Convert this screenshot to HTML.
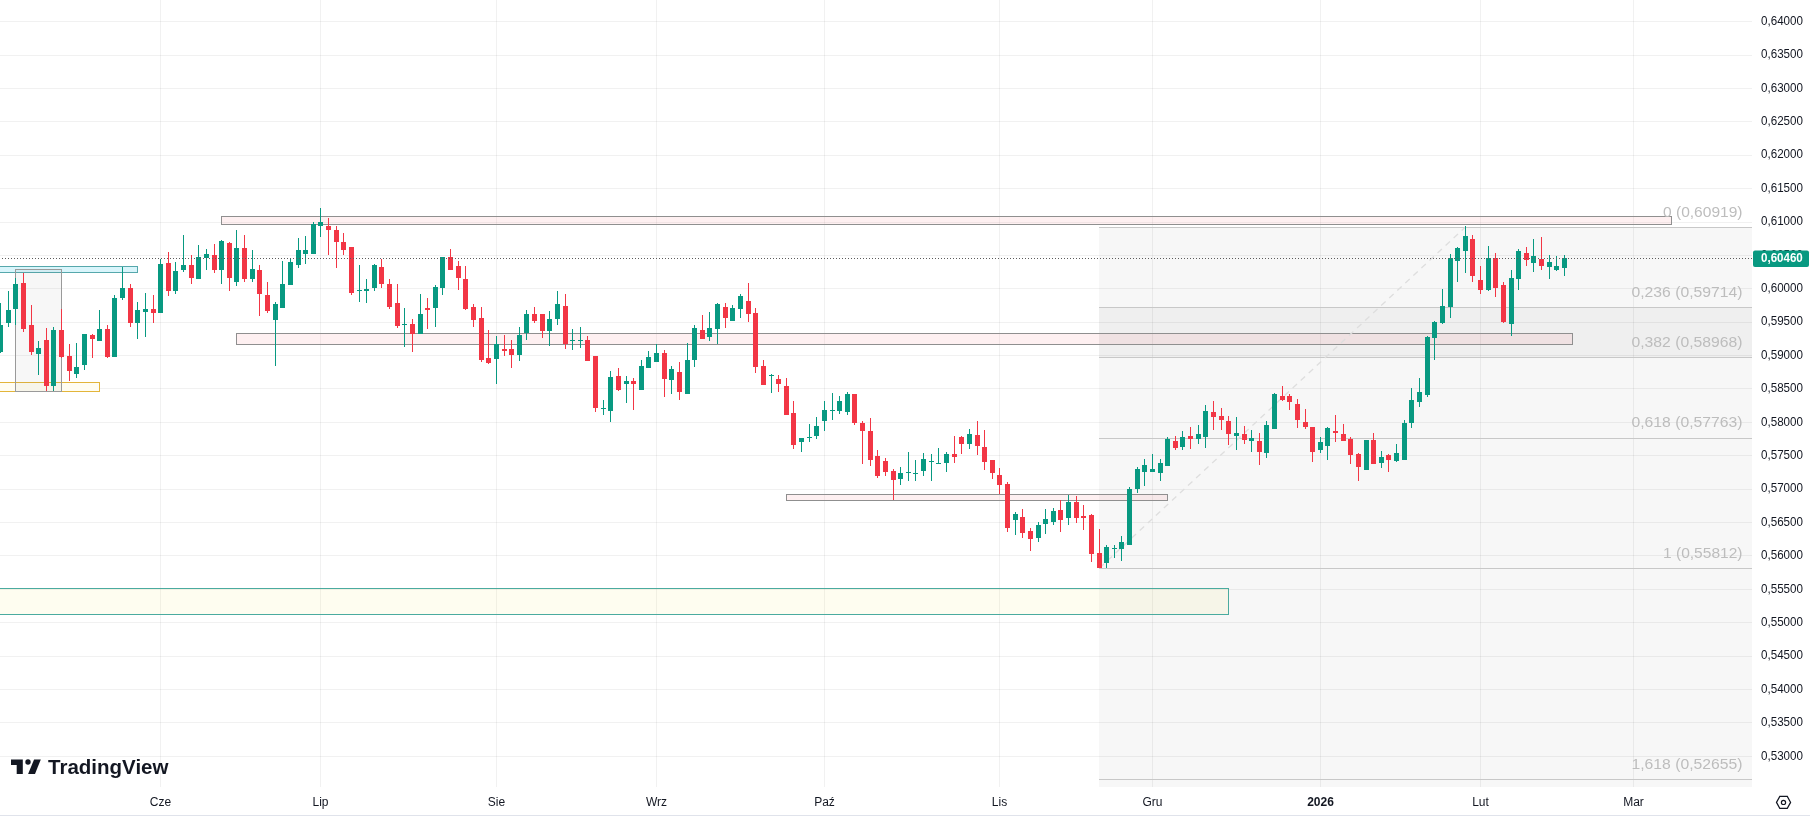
<!DOCTYPE html><html><head><meta charset="utf-8"><style>
html,body{margin:0;padding:0;background:#fff;width:1810px;height:817px;overflow:hidden}
svg{display:block;will-change:transform}
text{font-family:"Liberation Sans",sans-serif}
</style></head><body>
<svg width="1810" height="817" viewBox="0 0 1810 817" shape-rendering="crispEdges">

<rect x="1099" y="227.4" width="653" height="559.6" fill="#f7f7f7"/>
<rect x="1099" y="307.9" width="653" height="49.8" fill="#efefef"/>
<line x1="0" y1="756.5" x2="1752" y2="756.5" stroke="rgba(0,0,0,0.055)" stroke-width="1"/>
<line x1="0" y1="722.5" x2="1752" y2="722.5" stroke="rgba(0,0,0,0.055)" stroke-width="1"/>
<line x1="0" y1="689.5" x2="1752" y2="689.5" stroke="rgba(0,0,0,0.055)" stroke-width="1"/>
<line x1="0" y1="656.5" x2="1752" y2="656.5" stroke="rgba(0,0,0,0.055)" stroke-width="1"/>
<line x1="0" y1="622.5" x2="1752" y2="622.5" stroke="rgba(0,0,0,0.055)" stroke-width="1"/>
<line x1="0" y1="589.5" x2="1752" y2="589.5" stroke="rgba(0,0,0,0.055)" stroke-width="1"/>
<line x1="0" y1="555.5" x2="1752" y2="555.5" stroke="rgba(0,0,0,0.055)" stroke-width="1"/>
<line x1="0" y1="522.5" x2="1752" y2="522.5" stroke="rgba(0,0,0,0.055)" stroke-width="1"/>
<line x1="0" y1="489.5" x2="1752" y2="489.5" stroke="rgba(0,0,0,0.055)" stroke-width="1"/>
<line x1="0" y1="455.5" x2="1752" y2="455.5" stroke="rgba(0,0,0,0.055)" stroke-width="1"/>
<line x1="0" y1="422.5" x2="1752" y2="422.5" stroke="rgba(0,0,0,0.055)" stroke-width="1"/>
<line x1="0" y1="388.5" x2="1752" y2="388.5" stroke="rgba(0,0,0,0.055)" stroke-width="1"/>
<line x1="0" y1="355.5" x2="1752" y2="355.5" stroke="rgba(0,0,0,0.055)" stroke-width="1"/>
<line x1="0" y1="322.5" x2="1752" y2="322.5" stroke="rgba(0,0,0,0.055)" stroke-width="1"/>
<line x1="0" y1="288.5" x2="1752" y2="288.5" stroke="rgba(0,0,0,0.055)" stroke-width="1"/>
<line x1="0" y1="255.5" x2="1752" y2="255.5" stroke="rgba(0,0,0,0.055)" stroke-width="1"/>
<line x1="0" y1="222.5" x2="1752" y2="222.5" stroke="rgba(0,0,0,0.055)" stroke-width="1"/>
<line x1="0" y1="188.5" x2="1752" y2="188.5" stroke="rgba(0,0,0,0.055)" stroke-width="1"/>
<line x1="0" y1="155.5" x2="1752" y2="155.5" stroke="rgba(0,0,0,0.055)" stroke-width="1"/>
<line x1="0" y1="121.5" x2="1752" y2="121.5" stroke="rgba(0,0,0,0.055)" stroke-width="1"/>
<line x1="0" y1="88.5" x2="1752" y2="88.5" stroke="rgba(0,0,0,0.055)" stroke-width="1"/>
<line x1="0" y1="55.5" x2="1752" y2="55.5" stroke="rgba(0,0,0,0.055)" stroke-width="1"/>
<line x1="0" y1="21.5" x2="1752" y2="21.5" stroke="rgba(0,0,0,0.055)" stroke-width="1"/>
<line x1="160.5" y1="0" x2="160.5" y2="787" stroke="rgba(0,0,0,0.055)" stroke-width="1"/>
<line x1="320.5" y1="0" x2="320.5" y2="787" stroke="rgba(0,0,0,0.055)" stroke-width="1"/>
<line x1="496.5" y1="0" x2="496.5" y2="787" stroke="rgba(0,0,0,0.055)" stroke-width="1"/>
<line x1="656.5" y1="0" x2="656.5" y2="787" stroke="rgba(0,0,0,0.055)" stroke-width="1"/>
<line x1="824.5" y1="0" x2="824.5" y2="787" stroke="rgba(0,0,0,0.055)" stroke-width="1"/>
<line x1="999.5" y1="0" x2="999.5" y2="787" stroke="rgba(0,0,0,0.055)" stroke-width="1"/>
<line x1="1152.5" y1="0" x2="1152.5" y2="787" stroke="rgba(0,0,0,0.055)" stroke-width="1"/>
<line x1="1320.5" y1="0" x2="1320.5" y2="787" stroke="rgba(0,0,0,0.055)" stroke-width="1"/>
<line x1="1480.5" y1="0" x2="1480.5" y2="787" stroke="rgba(0,0,0,0.055)" stroke-width="1"/>
<line x1="1633.5" y1="0" x2="1633.5" y2="787" stroke="rgba(0,0,0,0.055)" stroke-width="1"/>
<rect x="-2" y="588.5" width="1230.5" height="26.0" fill="rgba(245,225,40,0.07)" stroke="#4aab9f" stroke-width="1.3"/>
<rect x="-2" y="266.5" width="139.5" height="6.0" fill="rgba(0,190,225,0.15)" stroke="#56a8ac" stroke-width="1.3"/>
<rect x="-2" y="382.5" width="101.5" height="9.0" fill="#fffdf2" stroke="#e3b53a" stroke-width="1.8"/>
<rect x="15.5" y="269.5" width="46.0" height="122.0" fill="rgba(100,100,100,0.05)" stroke="#9a9a9a" stroke-width="1"/>
<rect x="221.5" y="216.5" width="1450.0" height="8.0" fill="rgba(242,54,69,0.075)" stroke="#8f8f8f" stroke-width="1.2"/>
<rect x="236.5" y="333.5" width="1336.0" height="11.0" fill="rgba(242,54,69,0.075)" stroke="#8f8f8f" stroke-width="1.2"/>
<rect x="786.5" y="494.5" width="381.0" height="6.0" fill="rgba(242,54,69,0.075)" stroke="#8f8f8f" stroke-width="1.2"/>
<line x1="1099" y1="227.5" x2="1752" y2="227.5" stroke="#c8c8c8" stroke-width="1.4"/>
<line x1="1099" y1="307.5" x2="1752" y2="307.5" stroke="#c8c8c8" stroke-width="1.4"/>
<line x1="1099" y1="357.5" x2="1752" y2="357.5" stroke="#c8c8c8" stroke-width="1.4"/>
<line x1="1099" y1="438.5" x2="1752" y2="438.5" stroke="#c8c8c8" stroke-width="1.4"/>
<line x1="1099" y1="568.5" x2="1752" y2="568.5" stroke="#c8c8c8" stroke-width="1.4"/>
<line x1="1099" y1="779.5" x2="1752" y2="779.5" stroke="#c8c8c8" stroke-width="1.4"/>
<line x1="1099.5" y1="568" x2="1465.5" y2="227" stroke="#dedede" stroke-width="1.3" stroke-dasharray="6 5" shape-rendering="auto"/>
<text x="1742.5" y="216.6" text-anchor="end" font-size="14.8" textLength="79.5" lengthAdjust="spacingAndGlyphs" fill="#bdbdbd">0 (0,60919)</text>
<text x="1742.5" y="297.1" text-anchor="end" font-size="14.8" textLength="111.0" lengthAdjust="spacingAndGlyphs" fill="#bdbdbd">0,236 (0,59714)</text>
<text x="1742.5" y="346.9" text-anchor="end" font-size="14.8" textLength="111.0" lengthAdjust="spacingAndGlyphs" fill="#bdbdbd">0,382 (0,58968)</text>
<text x="1742.5" y="427.4" text-anchor="end" font-size="14.8" textLength="111.0" lengthAdjust="spacingAndGlyphs" fill="#bdbdbd">0,618 (0,57763)</text>
<text x="1742.5" y="557.8" text-anchor="end" font-size="14.8" textLength="79.5" lengthAdjust="spacingAndGlyphs" fill="#bdbdbd">1 (0,55812)</text>
<text x="1742.5" y="768.6" text-anchor="end" font-size="14.8" textLength="111.0" lengthAdjust="spacingAndGlyphs" fill="#bdbdbd">1,618 (0,52655)</text>
<rect x="0" y="303" width="1" height="50" fill="#089981"/>
<rect x="-2" y="325" width="5" height="27" fill="#089981"/>
<rect x="8" y="291" width="1" height="36" fill="#089981"/>
<rect x="6" y="310" width="5" height="13" fill="#089981"/>
<rect x="15" y="278" width="1" height="47" fill="#089981"/>
<rect x="13" y="284" width="5" height="25" fill="#089981"/>
<rect x="23" y="273" width="1" height="59" fill="#f23645"/>
<rect x="21" y="283" width="5" height="46" fill="#f23645"/>
<rect x="31" y="305" width="1" height="50" fill="#f23645"/>
<rect x="29" y="325" width="5" height="27" fill="#f23645"/>
<rect x="38" y="341" width="1" height="34" fill="#089981"/>
<rect x="36" y="348" width="5" height="6" fill="#089981"/>
<rect x="46" y="328" width="1" height="63" fill="#f23645"/>
<rect x="44" y="340" width="5" height="46" fill="#f23645"/>
<rect x="53" y="327" width="1" height="64" fill="#089981"/>
<rect x="51" y="330" width="5" height="56" fill="#089981"/>
<rect x="61" y="309" width="1" height="49" fill="#f23645"/>
<rect x="59" y="330" width="5" height="27" fill="#f23645"/>
<rect x="69" y="344" width="1" height="37" fill="#f23645"/>
<rect x="67" y="356" width="5" height="15" fill="#f23645"/>
<rect x="76" y="343" width="1" height="35" fill="#089981"/>
<rect x="74" y="367" width="5" height="7" fill="#089981"/>
<rect x="84" y="334" width="1" height="36" fill="#089981"/>
<rect x="82" y="334" width="5" height="31" fill="#089981"/>
<rect x="92" y="334" width="1" height="24" fill="#f23645"/>
<rect x="90" y="335" width="5" height="4" fill="#f23645"/>
<rect x="99" y="310" width="1" height="31" fill="#089981"/>
<rect x="97" y="329" width="5" height="12" fill="#089981"/>
<rect x="107" y="325" width="1" height="33" fill="#f23645"/>
<rect x="105" y="329" width="5" height="28" fill="#f23645"/>
<rect x="114" y="295" width="1" height="62" fill="#089981"/>
<rect x="112" y="298" width="5" height="59" fill="#089981"/>
<rect x="122" y="267" width="1" height="33" fill="#089981"/>
<rect x="120" y="288" width="5" height="10" fill="#089981"/>
<rect x="130" y="284" width="1" height="43" fill="#f23645"/>
<rect x="128" y="288" width="5" height="35" fill="#f23645"/>
<rect x="137" y="302" width="1" height="37" fill="#089981"/>
<rect x="135" y="310" width="5" height="13" fill="#089981"/>
<rect x="145" y="293" width="1" height="44" fill="#089981"/>
<rect x="143" y="309" width="5" height="3" fill="#089981"/>
<rect x="153" y="295" width="1" height="28" fill="#f23645"/>
<rect x="151" y="309" width="5" height="4" fill="#f23645"/>
<rect x="160" y="259" width="1" height="54" fill="#089981"/>
<rect x="158" y="264" width="5" height="49" fill="#089981"/>
<rect x="168" y="252" width="1" height="44" fill="#f23645"/>
<rect x="166" y="263" width="5" height="28" fill="#f23645"/>
<rect x="175" y="262" width="1" height="32" fill="#089981"/>
<rect x="173" y="271" width="5" height="20" fill="#089981"/>
<rect x="183" y="235" width="1" height="37" fill="#089981"/>
<rect x="181" y="265" width="5" height="5" fill="#089981"/>
<rect x="191" y="255" width="1" height="29" fill="#f23645"/>
<rect x="189" y="265" width="5" height="13" fill="#f23645"/>
<rect x="198" y="245" width="1" height="34" fill="#089981"/>
<rect x="196" y="257" width="5" height="22" fill="#089981"/>
<rect x="206" y="249" width="1" height="21" fill="#089981"/>
<rect x="204" y="254" width="5" height="4" fill="#089981"/>
<rect x="214" y="244" width="1" height="29" fill="#f23645"/>
<rect x="212" y="255" width="5" height="15" fill="#f23645"/>
<rect x="221" y="240" width="1" height="44" fill="#089981"/>
<rect x="219" y="241" width="5" height="29" fill="#089981"/>
<rect x="229" y="242" width="1" height="49" fill="#f23645"/>
<rect x="227" y="243" width="5" height="35" fill="#f23645"/>
<rect x="236" y="230" width="1" height="56" fill="#089981"/>
<rect x="234" y="248" width="5" height="34" fill="#089981"/>
<rect x="244" y="235" width="1" height="47" fill="#f23645"/>
<rect x="242" y="248" width="5" height="31" fill="#f23645"/>
<rect x="252" y="250" width="1" height="32" fill="#089981"/>
<rect x="250" y="269" width="5" height="10" fill="#089981"/>
<rect x="259" y="265" width="1" height="51" fill="#f23645"/>
<rect x="257" y="270" width="5" height="24" fill="#f23645"/>
<rect x="267" y="282" width="1" height="31" fill="#f23645"/>
<rect x="265" y="295" width="5" height="16" fill="#f23645"/>
<rect x="275" y="302" width="1" height="64" fill="#089981"/>
<rect x="273" y="304" width="5" height="16" fill="#089981"/>
<rect x="282" y="261" width="1" height="47" fill="#089981"/>
<rect x="280" y="284" width="5" height="24" fill="#089981"/>
<rect x="290" y="259" width="1" height="26" fill="#089981"/>
<rect x="288" y="262" width="5" height="23" fill="#089981"/>
<rect x="298" y="238" width="1" height="30" fill="#089981"/>
<rect x="296" y="250" width="5" height="15" fill="#089981"/>
<rect x="305" y="236" width="1" height="28" fill="#089981"/>
<rect x="303" y="250" width="5" height="4" fill="#089981"/>
<rect x="313" y="222" width="1" height="32" fill="#089981"/>
<rect x="311" y="224" width="5" height="30" fill="#089981"/>
<rect x="320" y="208" width="1" height="29" fill="#089981"/>
<rect x="318" y="222" width="5" height="4" fill="#089981"/>
<rect x="328" y="218" width="1" height="37" fill="#f23645"/>
<rect x="326" y="226" width="5" height="4" fill="#f23645"/>
<rect x="336" y="226" width="1" height="42" fill="#f23645"/>
<rect x="334" y="230" width="5" height="12" fill="#f23645"/>
<rect x="343" y="233" width="1" height="22" fill="#f23645"/>
<rect x="341" y="242" width="5" height="8" fill="#f23645"/>
<rect x="351" y="247" width="1" height="48" fill="#f23645"/>
<rect x="349" y="247" width="5" height="46" fill="#f23645"/>
<rect x="359" y="265" width="1" height="37" fill="#089981"/>
<rect x="357" y="290" width="5" height="1" fill="#089981"/>
<rect x="366" y="279" width="1" height="24" fill="#089981"/>
<rect x="364" y="289" width="5" height="2" fill="#089981"/>
<rect x="374" y="264" width="1" height="27" fill="#089981"/>
<rect x="372" y="265" width="5" height="23" fill="#089981"/>
<rect x="381" y="259" width="1" height="29" fill="#f23645"/>
<rect x="379" y="267" width="5" height="17" fill="#f23645"/>
<rect x="389" y="279" width="1" height="30" fill="#f23645"/>
<rect x="387" y="284" width="5" height="23" fill="#f23645"/>
<rect x="397" y="284" width="1" height="44" fill="#f23645"/>
<rect x="395" y="303" width="5" height="23" fill="#f23645"/>
<rect x="404" y="308" width="1" height="39" fill="#089981"/>
<rect x="402" y="324" width="5" height="1" fill="#089981"/>
<rect x="412" y="319" width="1" height="33" fill="#f23645"/>
<rect x="410" y="324" width="5" height="10" fill="#f23645"/>
<rect x="420" y="294" width="1" height="40" fill="#089981"/>
<rect x="418" y="314" width="5" height="20" fill="#089981"/>
<rect x="427" y="298" width="1" height="31" fill="#f23645"/>
<rect x="425" y="308" width="5" height="2" fill="#f23645"/>
<rect x="435" y="285" width="1" height="42" fill="#089981"/>
<rect x="433" y="287" width="5" height="21" fill="#089981"/>
<rect x="442" y="257" width="1" height="38" fill="#089981"/>
<rect x="440" y="257" width="5" height="31" fill="#089981"/>
<rect x="450" y="249" width="1" height="21" fill="#f23645"/>
<rect x="448" y="257" width="5" height="13" fill="#f23645"/>
<rect x="458" y="261" width="1" height="29" fill="#f23645"/>
<rect x="456" y="266" width="5" height="12" fill="#f23645"/>
<rect x="465" y="266" width="1" height="44" fill="#f23645"/>
<rect x="463" y="279" width="5" height="30" fill="#f23645"/>
<rect x="473" y="304" width="1" height="23" fill="#f23645"/>
<rect x="471" y="307" width="5" height="13" fill="#f23645"/>
<rect x="481" y="307" width="1" height="55" fill="#f23645"/>
<rect x="479" y="318" width="5" height="42" fill="#f23645"/>
<rect x="488" y="330" width="1" height="34" fill="#f23645"/>
<rect x="486" y="358" width="5" height="5" fill="#f23645"/>
<rect x="496" y="336" width="1" height="48" fill="#089981"/>
<rect x="494" y="344" width="5" height="15" fill="#089981"/>
<rect x="504" y="335" width="1" height="21" fill="#f23645"/>
<rect x="502" y="349" width="5" height="2" fill="#f23645"/>
<rect x="511" y="340" width="1" height="28" fill="#f23645"/>
<rect x="509" y="349" width="5" height="6" fill="#f23645"/>
<rect x="519" y="327" width="1" height="34" fill="#089981"/>
<rect x="517" y="335" width="5" height="20" fill="#089981"/>
<rect x="526" y="310" width="1" height="30" fill="#089981"/>
<rect x="524" y="314" width="5" height="19" fill="#089981"/>
<rect x="534" y="307" width="1" height="16" fill="#f23645"/>
<rect x="532" y="314" width="5" height="7" fill="#f23645"/>
<rect x="542" y="314" width="1" height="24" fill="#f23645"/>
<rect x="540" y="314" width="5" height="17" fill="#f23645"/>
<rect x="549" y="311" width="1" height="35" fill="#089981"/>
<rect x="547" y="319" width="5" height="12" fill="#089981"/>
<rect x="557" y="291" width="1" height="34" fill="#089981"/>
<rect x="555" y="304" width="5" height="15" fill="#089981"/>
<rect x="565" y="294" width="1" height="55" fill="#f23645"/>
<rect x="563" y="306" width="5" height="38" fill="#f23645"/>
<rect x="572" y="329" width="1" height="21" fill="#089981"/>
<rect x="570" y="340" width="5" height="1" fill="#089981"/>
<rect x="580" y="327" width="1" height="21" fill="#089981"/>
<rect x="578" y="340" width="5" height="1" fill="#089981"/>
<rect x="587" y="336" width="1" height="25" fill="#f23645"/>
<rect x="585" y="340" width="5" height="21" fill="#f23645"/>
<rect x="595" y="356" width="1" height="56" fill="#f23645"/>
<rect x="593" y="356" width="5" height="52" fill="#f23645"/>
<rect x="603" y="400" width="1" height="15" fill="#089981"/>
<rect x="601" y="408" width="5" height="1" fill="#089981"/>
<rect x="610" y="371" width="1" height="51" fill="#089981"/>
<rect x="608" y="377" width="5" height="34" fill="#089981"/>
<rect x="618" y="368" width="1" height="23" fill="#f23645"/>
<rect x="616" y="376" width="5" height="14" fill="#f23645"/>
<rect x="626" y="376" width="1" height="27" fill="#089981"/>
<rect x="624" y="381" width="5" height="3" fill="#089981"/>
<rect x="633" y="378" width="1" height="32" fill="#f23645"/>
<rect x="631" y="381" width="5" height="3" fill="#f23645"/>
<rect x="641" y="360" width="1" height="30" fill="#089981"/>
<rect x="639" y="366" width="5" height="24" fill="#089981"/>
<rect x="648" y="351" width="1" height="17" fill="#089981"/>
<rect x="646" y="357" width="5" height="11" fill="#089981"/>
<rect x="656" y="344" width="1" height="18" fill="#089981"/>
<rect x="654" y="353" width="5" height="9" fill="#089981"/>
<rect x="664" y="350" width="1" height="47" fill="#f23645"/>
<rect x="662" y="353" width="5" height="26" fill="#f23645"/>
<rect x="671" y="366" width="1" height="28" fill="#089981"/>
<rect x="669" y="369" width="5" height="11" fill="#089981"/>
<rect x="679" y="362" width="1" height="38" fill="#f23645"/>
<rect x="677" y="372" width="5" height="20" fill="#f23645"/>
<rect x="687" y="343" width="1" height="51" fill="#089981"/>
<rect x="685" y="360" width="5" height="34" fill="#089981"/>
<rect x="694" y="325" width="1" height="42" fill="#089981"/>
<rect x="692" y="328" width="5" height="32" fill="#089981"/>
<rect x="702" y="315" width="1" height="24" fill="#f23645"/>
<rect x="700" y="330" width="5" height="9" fill="#f23645"/>
<rect x="709" y="312" width="1" height="29" fill="#089981"/>
<rect x="707" y="328" width="5" height="9" fill="#089981"/>
<rect x="717" y="303" width="1" height="41" fill="#089981"/>
<rect x="715" y="304" width="5" height="25" fill="#089981"/>
<rect x="725" y="303" width="1" height="25" fill="#f23645"/>
<rect x="723" y="307" width="5" height="11" fill="#f23645"/>
<rect x="732" y="305" width="1" height="16" fill="#089981"/>
<rect x="730" y="308" width="5" height="13" fill="#089981"/>
<rect x="740" y="294" width="1" height="24" fill="#089981"/>
<rect x="738" y="296" width="5" height="13" fill="#089981"/>
<rect x="748" y="283" width="1" height="39" fill="#f23645"/>
<rect x="746" y="301" width="5" height="13" fill="#f23645"/>
<rect x="755" y="308" width="1" height="65" fill="#f23645"/>
<rect x="753" y="313" width="5" height="54" fill="#f23645"/>
<rect x="763" y="360" width="1" height="25" fill="#f23645"/>
<rect x="761" y="366" width="5" height="19" fill="#f23645"/>
<rect x="771" y="374" width="1" height="19" fill="#089981"/>
<rect x="769" y="375" width="5" height="1" fill="#089981"/>
<rect x="778" y="375" width="1" height="17" fill="#f23645"/>
<rect x="776" y="379" width="5" height="5" fill="#f23645"/>
<rect x="786" y="378" width="1" height="37" fill="#f23645"/>
<rect x="784" y="386" width="5" height="29" fill="#f23645"/>
<rect x="793" y="401" width="1" height="48" fill="#f23645"/>
<rect x="791" y="413" width="5" height="32" fill="#f23645"/>
<rect x="801" y="438" width="1" height="14" fill="#089981"/>
<rect x="799" y="438" width="5" height="4" fill="#089981"/>
<rect x="809" y="424" width="1" height="18" fill="#089981"/>
<rect x="807" y="437" width="5" height="1" fill="#089981"/>
<rect x="816" y="417" width="1" height="22" fill="#089981"/>
<rect x="814" y="426" width="5" height="10" fill="#089981"/>
<rect x="824" y="401" width="1" height="30" fill="#089981"/>
<rect x="822" y="410" width="5" height="11" fill="#089981"/>
<rect x="832" y="393" width="1" height="27" fill="#089981"/>
<rect x="830" y="410" width="5" height="1" fill="#089981"/>
<rect x="839" y="396" width="1" height="18" fill="#089981"/>
<rect x="837" y="401" width="5" height="10" fill="#089981"/>
<rect x="847" y="392" width="1" height="23" fill="#089981"/>
<rect x="845" y="394" width="5" height="18" fill="#089981"/>
<rect x="854" y="394" width="1" height="31" fill="#f23645"/>
<rect x="852" y="394" width="5" height="29" fill="#f23645"/>
<rect x="862" y="421" width="1" height="43" fill="#f23645"/>
<rect x="860" y="423" width="5" height="8" fill="#f23645"/>
<rect x="870" y="418" width="1" height="48" fill="#f23645"/>
<rect x="868" y="431" width="5" height="29" fill="#f23645"/>
<rect x="877" y="450" width="1" height="28" fill="#f23645"/>
<rect x="875" y="456" width="5" height="20" fill="#f23645"/>
<rect x="885" y="458" width="1" height="18" fill="#f23645"/>
<rect x="883" y="461" width="5" height="11" fill="#f23645"/>
<rect x="893" y="469" width="1" height="31" fill="#f23645"/>
<rect x="891" y="471" width="5" height="9" fill="#f23645"/>
<rect x="900" y="467" width="1" height="18" fill="#089981"/>
<rect x="898" y="473" width="5" height="6" fill="#089981"/>
<rect x="908" y="452" width="1" height="29" fill="#089981"/>
<rect x="906" y="472" width="5" height="1" fill="#089981"/>
<rect x="915" y="460" width="1" height="21" fill="#089981"/>
<rect x="913" y="473" width="5" height="1" fill="#089981"/>
<rect x="923" y="453" width="1" height="23" fill="#089981"/>
<rect x="921" y="459" width="5" height="12" fill="#089981"/>
<rect x="931" y="454" width="1" height="27" fill="#089981"/>
<rect x="929" y="461" width="5" height="1" fill="#089981"/>
<rect x="938" y="448" width="1" height="16" fill="#089981"/>
<rect x="936" y="463" width="5" height="1" fill="#089981"/>
<rect x="946" y="452" width="1" height="20" fill="#089981"/>
<rect x="944" y="454" width="5" height="9" fill="#089981"/>
<rect x="954" y="436" width="1" height="27" fill="#f23645"/>
<rect x="952" y="454" width="5" height="3" fill="#f23645"/>
<rect x="961" y="436" width="1" height="18" fill="#f23645"/>
<rect x="959" y="437" width="5" height="7" fill="#f23645"/>
<rect x="969" y="429" width="1" height="20" fill="#089981"/>
<rect x="967" y="434" width="5" height="10" fill="#089981"/>
<rect x="977" y="421" width="1" height="34" fill="#f23645"/>
<rect x="975" y="435" width="5" height="11" fill="#f23645"/>
<rect x="984" y="430" width="1" height="40" fill="#f23645"/>
<rect x="982" y="447" width="5" height="15" fill="#f23645"/>
<rect x="992" y="460" width="1" height="19" fill="#f23645"/>
<rect x="990" y="460" width="5" height="13" fill="#f23645"/>
<rect x="999" y="468" width="1" height="26" fill="#f23645"/>
<rect x="997" y="475" width="5" height="10" fill="#f23645"/>
<rect x="1007" y="482" width="1" height="50" fill="#f23645"/>
<rect x="1005" y="484" width="5" height="44" fill="#f23645"/>
<rect x="1015" y="512" width="1" height="23" fill="#089981"/>
<rect x="1013" y="514" width="5" height="6" fill="#089981"/>
<rect x="1022" y="509" width="1" height="29" fill="#f23645"/>
<rect x="1020" y="517" width="5" height="16" fill="#f23645"/>
<rect x="1030" y="528" width="1" height="23" fill="#f23645"/>
<rect x="1028" y="531" width="5" height="8" fill="#f23645"/>
<rect x="1038" y="522" width="1" height="20" fill="#089981"/>
<rect x="1036" y="525" width="5" height="13" fill="#089981"/>
<rect x="1045" y="509" width="1" height="25" fill="#089981"/>
<rect x="1043" y="519" width="5" height="5" fill="#089981"/>
<rect x="1053" y="508" width="1" height="17" fill="#089981"/>
<rect x="1051" y="511" width="5" height="11" fill="#089981"/>
<rect x="1060" y="500" width="1" height="32" fill="#f23645"/>
<rect x="1058" y="510" width="5" height="10" fill="#f23645"/>
<rect x="1068" y="495" width="1" height="30" fill="#089981"/>
<rect x="1066" y="502" width="5" height="16" fill="#089981"/>
<rect x="1076" y="496" width="1" height="27" fill="#f23645"/>
<rect x="1074" y="502" width="5" height="16" fill="#f23645"/>
<rect x="1083" y="505" width="1" height="25" fill="#f23645"/>
<rect x="1081" y="516" width="5" height="2" fill="#f23645"/>
<rect x="1091" y="514" width="1" height="48" fill="#f23645"/>
<rect x="1089" y="515" width="5" height="39" fill="#f23645"/>
<rect x="1099" y="529" width="1" height="39" fill="#f23645"/>
<rect x="1097" y="553" width="5" height="15" fill="#f23645"/>
<rect x="1106" y="545" width="1" height="23" fill="#089981"/>
<rect x="1104" y="547" width="5" height="16" fill="#089981"/>
<rect x="1114" y="545" width="1" height="13" fill="#089981"/>
<rect x="1112" y="548" width="5" height="1" fill="#089981"/>
<rect x="1121" y="536" width="1" height="25" fill="#089981"/>
<rect x="1119" y="542" width="5" height="7" fill="#089981"/>
<rect x="1129" y="487" width="1" height="58" fill="#089981"/>
<rect x="1127" y="489" width="5" height="56" fill="#089981"/>
<rect x="1137" y="467" width="1" height="26" fill="#089981"/>
<rect x="1135" y="469" width="5" height="20" fill="#089981"/>
<rect x="1144" y="459" width="1" height="27" fill="#089981"/>
<rect x="1142" y="465" width="5" height="7" fill="#089981"/>
<rect x="1152" y="454" width="1" height="18" fill="#089981"/>
<rect x="1150" y="469" width="5" height="3" fill="#089981"/>
<rect x="1160" y="459" width="1" height="22" fill="#089981"/>
<rect x="1158" y="463" width="5" height="10" fill="#089981"/>
<rect x="1167" y="437" width="1" height="29" fill="#089981"/>
<rect x="1165" y="439" width="5" height="27" fill="#089981"/>
<rect x="1175" y="436" width="1" height="14" fill="#f23645"/>
<rect x="1173" y="441" width="5" height="7" fill="#f23645"/>
<rect x="1182" y="431" width="1" height="19" fill="#089981"/>
<rect x="1180" y="437" width="5" height="10" fill="#089981"/>
<rect x="1190" y="427" width="1" height="22" fill="#f23645"/>
<rect x="1188" y="436" width="5" height="3" fill="#f23645"/>
<rect x="1198" y="425" width="1" height="19" fill="#089981"/>
<rect x="1196" y="434" width="5" height="5" fill="#089981"/>
<rect x="1205" y="405" width="1" height="43" fill="#089981"/>
<rect x="1203" y="411" width="5" height="26" fill="#089981"/>
<rect x="1213" y="401" width="1" height="29" fill="#f23645"/>
<rect x="1211" y="412" width="5" height="5" fill="#f23645"/>
<rect x="1221" y="408" width="1" height="22" fill="#f23645"/>
<rect x="1219" y="416" width="5" height="4" fill="#f23645"/>
<rect x="1228" y="416" width="1" height="29" fill="#f23645"/>
<rect x="1226" y="421" width="5" height="13" fill="#f23645"/>
<rect x="1236" y="417" width="1" height="33" fill="#089981"/>
<rect x="1234" y="433" width="5" height="3" fill="#089981"/>
<rect x="1244" y="426" width="1" height="18" fill="#f23645"/>
<rect x="1242" y="434" width="5" height="6" fill="#f23645"/>
<rect x="1251" y="430" width="1" height="22" fill="#089981"/>
<rect x="1249" y="438" width="5" height="3" fill="#089981"/>
<rect x="1259" y="433" width="1" height="32" fill="#f23645"/>
<rect x="1257" y="441" width="5" height="11" fill="#f23645"/>
<rect x="1266" y="421" width="1" height="37" fill="#089981"/>
<rect x="1264" y="425" width="5" height="28" fill="#089981"/>
<rect x="1274" y="393" width="1" height="36" fill="#089981"/>
<rect x="1272" y="394" width="5" height="35" fill="#089981"/>
<rect x="1282" y="386" width="1" height="15" fill="#f23645"/>
<rect x="1280" y="396" width="5" height="4" fill="#f23645"/>
<rect x="1289" y="394" width="1" height="16" fill="#f23645"/>
<rect x="1287" y="396" width="5" height="6" fill="#f23645"/>
<rect x="1297" y="399" width="1" height="29" fill="#f23645"/>
<rect x="1295" y="404" width="5" height="16" fill="#f23645"/>
<rect x="1305" y="409" width="1" height="20" fill="#f23645"/>
<rect x="1303" y="422" width="5" height="5" fill="#f23645"/>
<rect x="1312" y="427" width="1" height="35" fill="#f23645"/>
<rect x="1310" y="427" width="5" height="25" fill="#f23645"/>
<rect x="1320" y="437" width="1" height="16" fill="#089981"/>
<rect x="1318" y="442" width="5" height="8" fill="#089981"/>
<rect x="1327" y="427" width="1" height="33" fill="#089981"/>
<rect x="1325" y="428" width="5" height="18" fill="#089981"/>
<rect x="1335" y="415" width="1" height="27" fill="#f23645"/>
<rect x="1333" y="431" width="5" height="2" fill="#f23645"/>
<rect x="1343" y="424" width="1" height="17" fill="#f23645"/>
<rect x="1341" y="434" width="5" height="7" fill="#f23645"/>
<rect x="1350" y="437" width="1" height="27" fill="#f23645"/>
<rect x="1348" y="439" width="5" height="16" fill="#f23645"/>
<rect x="1358" y="453" width="1" height="28" fill="#f23645"/>
<rect x="1356" y="454" width="5" height="13" fill="#f23645"/>
<rect x="1366" y="440" width="1" height="30" fill="#089981"/>
<rect x="1364" y="440" width="5" height="30" fill="#089981"/>
<rect x="1373" y="433" width="1" height="31" fill="#f23645"/>
<rect x="1371" y="440" width="5" height="24" fill="#f23645"/>
<rect x="1381" y="451" width="1" height="17" fill="#089981"/>
<rect x="1379" y="457" width="5" height="6" fill="#089981"/>
<rect x="1388" y="454" width="1" height="18" fill="#f23645"/>
<rect x="1386" y="455" width="5" height="5" fill="#f23645"/>
<rect x="1396" y="444" width="1" height="18" fill="#089981"/>
<rect x="1394" y="453" width="5" height="8" fill="#089981"/>
<rect x="1404" y="420" width="1" height="40" fill="#089981"/>
<rect x="1402" y="423" width="5" height="37" fill="#089981"/>
<rect x="1411" y="388" width="1" height="40" fill="#089981"/>
<rect x="1409" y="400" width="5" height="23" fill="#089981"/>
<rect x="1419" y="378" width="1" height="29" fill="#089981"/>
<rect x="1417" y="392" width="5" height="10" fill="#089981"/>
<rect x="1427" y="336" width="1" height="61" fill="#089981"/>
<rect x="1425" y="337" width="5" height="58" fill="#089981"/>
<rect x="1434" y="321" width="1" height="39" fill="#089981"/>
<rect x="1432" y="322" width="5" height="16" fill="#089981"/>
<rect x="1442" y="289" width="1" height="35" fill="#089981"/>
<rect x="1440" y="306" width="5" height="17" fill="#089981"/>
<rect x="1450" y="254" width="1" height="64" fill="#089981"/>
<rect x="1448" y="258" width="5" height="49" fill="#089981"/>
<rect x="1457" y="247" width="1" height="35" fill="#089981"/>
<rect x="1455" y="248" width="5" height="13" fill="#089981"/>
<rect x="1465" y="226" width="1" height="47" fill="#089981"/>
<rect x="1463" y="236" width="5" height="15" fill="#089981"/>
<rect x="1472" y="235" width="1" height="47" fill="#f23645"/>
<rect x="1470" y="239" width="5" height="37" fill="#f23645"/>
<rect x="1480" y="266" width="1" height="28" fill="#f23645"/>
<rect x="1478" y="280" width="5" height="10" fill="#f23645"/>
<rect x="1488" y="246" width="1" height="45" fill="#089981"/>
<rect x="1486" y="258" width="5" height="32" fill="#089981"/>
<rect x="1495" y="253" width="1" height="44" fill="#f23645"/>
<rect x="1493" y="258" width="5" height="30" fill="#f23645"/>
<rect x="1503" y="282" width="1" height="41" fill="#f23645"/>
<rect x="1501" y="285" width="5" height="37" fill="#f23645"/>
<rect x="1511" y="270" width="1" height="66" fill="#089981"/>
<rect x="1509" y="278" width="5" height="46" fill="#089981"/>
<rect x="1518" y="249" width="1" height="41" fill="#089981"/>
<rect x="1516" y="251" width="5" height="28" fill="#089981"/>
<rect x="1526" y="247" width="1" height="19" fill="#f23645"/>
<rect x="1524" y="253" width="5" height="7" fill="#f23645"/>
<rect x="1533" y="239" width="1" height="33" fill="#089981"/>
<rect x="1531" y="256" width="5" height="7" fill="#089981"/>
<rect x="1541" y="237" width="1" height="33" fill="#f23645"/>
<rect x="1539" y="259" width="5" height="7" fill="#f23645"/>
<rect x="1549" y="255" width="1" height="24" fill="#089981"/>
<rect x="1547" y="262" width="5" height="5" fill="#089981"/>
<rect x="1556" y="256" width="1" height="15" fill="#089981"/>
<rect x="1554" y="266" width="5" height="4" fill="#089981"/>
<rect x="1564" y="255" width="1" height="21" fill="#089981"/>
<rect x="1562" y="258" width="5" height="10" fill="#089981"/>
<line x1="0" y1="258.5" x2="1752" y2="258.5" stroke="#5c5c5c" stroke-width="1" stroke-dasharray="1 2" stroke-dashoffset="1"/>
<text x="1761" y="759.5" font-size="12.4" textLength="42" lengthAdjust="spacingAndGlyphs" fill="#131722">0,53000</text>
<text x="1761" y="726.1" font-size="12.4" textLength="42" lengthAdjust="spacingAndGlyphs" fill="#131722">0,53500</text>
<text x="1761" y="692.7" font-size="12.4" textLength="42" lengthAdjust="spacingAndGlyphs" fill="#131722">0,54000</text>
<text x="1761" y="659.3" font-size="12.4" textLength="42" lengthAdjust="spacingAndGlyphs" fill="#131722">0,54500</text>
<text x="1761" y="625.9" font-size="12.4" textLength="42" lengthAdjust="spacingAndGlyphs" fill="#131722">0,55000</text>
<text x="1761" y="592.5" font-size="12.4" textLength="42" lengthAdjust="spacingAndGlyphs" fill="#131722">0,55500</text>
<text x="1761" y="559.1" font-size="12.4" textLength="42" lengthAdjust="spacingAndGlyphs" fill="#131722">0,56000</text>
<text x="1761" y="525.7" font-size="12.4" textLength="42" lengthAdjust="spacingAndGlyphs" fill="#131722">0,56500</text>
<text x="1761" y="492.3" font-size="12.4" textLength="42" lengthAdjust="spacingAndGlyphs" fill="#131722">0,57000</text>
<text x="1761" y="458.9" font-size="12.4" textLength="42" lengthAdjust="spacingAndGlyphs" fill="#131722">0,57500</text>
<text x="1761" y="425.5" font-size="12.4" textLength="42" lengthAdjust="spacingAndGlyphs" fill="#131722">0,58000</text>
<text x="1761" y="392.1" font-size="12.4" textLength="42" lengthAdjust="spacingAndGlyphs" fill="#131722">0,58500</text>
<text x="1761" y="358.7" font-size="12.4" textLength="42" lengthAdjust="spacingAndGlyphs" fill="#131722">0,59000</text>
<text x="1761" y="325.3" font-size="12.4" textLength="42" lengthAdjust="spacingAndGlyphs" fill="#131722">0,59500</text>
<text x="1761" y="291.9" font-size="12.4" textLength="42" lengthAdjust="spacingAndGlyphs" fill="#131722">0,60000</text>
<text x="1761" y="258.5" font-size="12.4" textLength="42" lengthAdjust="spacingAndGlyphs" fill="#131722">0,60500</text>
<text x="1761" y="225.1" font-size="12.4" textLength="42" lengthAdjust="spacingAndGlyphs" fill="#131722">0,61000</text>
<text x="1761" y="191.7" font-size="12.4" textLength="42" lengthAdjust="spacingAndGlyphs" fill="#131722">0,61500</text>
<text x="1761" y="158.3" font-size="12.4" textLength="42" lengthAdjust="spacingAndGlyphs" fill="#131722">0,62000</text>
<text x="1761" y="124.9" font-size="12.4" textLength="42" lengthAdjust="spacingAndGlyphs" fill="#131722">0,62500</text>
<text x="1761" y="91.5" font-size="12.4" textLength="42" lengthAdjust="spacingAndGlyphs" fill="#131722">0,63000</text>
<text x="1761" y="58.1" font-size="12.4" textLength="42" lengthAdjust="spacingAndGlyphs" fill="#131722">0,63500</text>
<text x="1761" y="24.7" font-size="12.4" textLength="42" lengthAdjust="spacingAndGlyphs" fill="#131722">0,64000</text>
<rect x="1753" y="250.6" width="56" height="16.4" rx="2" fill="#089981" shape-rendering="auto"/>
<text x="1761" y="262.4" font-size="12.2" font-weight="bold" textLength="41.8" lengthAdjust="spacingAndGlyphs" fill="#ffffff">0,60460</text>
<text x="160.5" y="806" text-anchor="middle" font-size="12" fill="#131722">Cze</text>
<text x="320.5" y="806" text-anchor="middle" font-size="12" fill="#131722">Lip</text>
<text x="496.5" y="806" text-anchor="middle" font-size="12" fill="#131722">Sie</text>
<text x="656.5" y="806" text-anchor="middle" font-size="12" fill="#131722">Wrz</text>
<text x="824.5" y="806" text-anchor="middle" font-size="12" fill="#131722">Paź</text>
<text x="999.5" y="806" text-anchor="middle" font-size="12" fill="#131722">Lis</text>
<text x="1152.5" y="806" text-anchor="middle" font-size="12" fill="#131722">Gru</text>
<text x="1320.5" y="806" text-anchor="middle" font-size="12" font-weight="bold" fill="#131722">2026</text>
<text x="1480.5" y="806" text-anchor="middle" font-size="12" fill="#131722">Lut</text>
<text x="1633.5" y="806" text-anchor="middle" font-size="12" fill="#131722">Mar</text>
<rect x="0" y="815" width="1810" height="1" fill="#e0e3eb"/>
<g shape-rendering="auto" fill="none" stroke="#131722" stroke-width="1.2"><path d="M1776.5 802.4 L1779.8 796.4 L1787.3 796.4 L1790.6 802.4 L1787.3 808.4 L1779.8 808.4 Z"/><circle cx="1783.5" cy="802.4" r="2.1"/></g>
<g shape-rendering="auto" fill="#131722"><path d="M11 759.4 H22.8 V774 H16.7 V765 H11 Z"/><circle cx="28" cy="762" r="2.7"/><path d="M34.1 759.4 H40.8 L35 774 H28.1 Z"/></g>
<text x="48" y="774.2" font-size="20.6" font-weight="bold" textLength="120.5" lengthAdjust="spacingAndGlyphs" fill="#131722">TradingView</text>
</svg></body></html>
